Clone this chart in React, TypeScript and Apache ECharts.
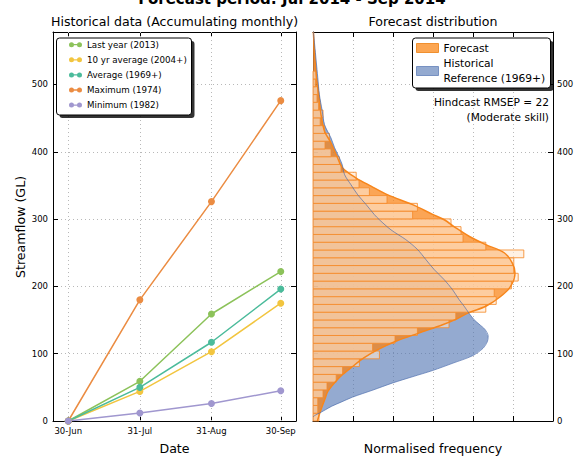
import React, { useEffect, useRef } from 'react';
import * as echarts from 'echarts';

const FONT = 'DejaVu Sans';

// ---------------- Data ----------------
const MAIN_TITLE = 'Forecast period: Jul 2014 - Sep 2014';
const LEFT_TITLE = 'Historical data (Accumulating monthly)';
const RIGHT_TITLE = 'Forecast distribution';
const Y_TITLE = 'Streamflow (GL)';
const X_TITLE_LEFT = 'Date';
const X_TITLE_RIGHT = 'Normalised frequency';
const SKILL_LINES = ['Hindcast RMSEP = 22', '(Moderate skill)'];

const DATE_DAYS = [0, 31, 62, 92];
const DATE_LABELS = ['30-Jun', '31-Jul', '31-Aug', '30-Sep'];
const Y_TICKS = [0, 100, 200, 300, 400, 500];
const FREQ_TICKS = [0, 1, 2, 3, 4, 5, 6];

const SERIES_NAMES = [
  'Last year (2013)',
  '10 yr average (2004+)',
  'Average (1969+)',
  'Maximum (1974)',
  'Minimum (1982)',
];
const LAST_YEAR = [0, 59, 159, 222];
const TEN_YR_AVERAGE = [0, 44, 103, 175];
const AVERAGE = [0, 50, 117, 196];
const MAXIMUM = [0, 180, 326, 476];
const MINIMUM = [0, 12, 26, 45];

const FORECAST_NAME = 'Forecast';
const HIST_NAME = 'Historical Reference (1969+)';

// histogram of the forecast ensemble (normalised frequency per bin)
const HIST_BIN_WIDTH = 11.55;
const HIST_DENSITY = [
  0.15, 0.12, 0.12, 0.25, 0.35, 0.58, 0.74, 1.16, 1.66, 1.49,
  2.05, 2.61, 3.40, 3.57, 4.32, 4.58, 4.53, 4.96, 5.13, 5.02,
  5.02, 5.27, 4.32, 3.75, 3.70, 3.45, 2.49, 2.61, 1.85, 1.41,
  1.15, 1.08, 0.70, 0.66, 0.45, 0.30, 0.41, 0.29, 0.18, 0.25,
  0.14, 0.10, 0.12, 0.06, 0.08,
];

// forecast density curve
const FORECAST_KDE_GL = [
  0, 10, 22, 33, 44, 57, 69, 81, 94, 106, 118.5, 131, 143, 151, 161, 170.5, 185, 200, 220, 235,
  250, 262, 274.5, 287, 299, 307, 321.5, 336, 349, 361, 376, 396, 415.5, 430, 455, 477, 510, 537, 578,
];
const FORECAST_KDE_DENSITY = [
  0.11, 0.16, 0.23, 0.30, 0.37, 0.54, 0.74, 0.99, 1.28, 1.62, 2.07, 2.66, 3.24, 3.57, 3.90, 4.32, 4.69, 4.94, 5.05, 4.98,
  4.78, 4.32, 3.90, 3.57, 3.28, 2.99, 2.49, 1.87, 1.45, 1.08, 0.74, 0.58, 0.43, 0.29, 0.20, 0.16, 0.09, 0.05, 0.01,
];

// historical reference density curve
const HIST_KDE_GL = [
  6, 8, 10, 13, 17, 22, 28, 35.5, 46, 56.5, 66, 75, 86, 97, 108, 118, 126, 136, 144, 151,
  161, 170.5, 180.5, 195, 210, 225, 240, 255, 269.5, 284, 299, 307, 321.5, 336, 351, 366, 381, 391,
  406, 420.5, 440, 461, 485, 510, 535, 560, 578,
];
const HIST_KDE_DENSITY = [
  0, 0.04, 0.1, 0.2, 0.32, 0.47, 0.7, 0.99, 1.5, 1.99, 2.5, 2.99, 3.5, 3.99, 4.25, 4.36, 4.38, 4.30, 4.15, 4.02,
  3.89, 3.78, 3.65, 3.49, 3.28, 3.03, 2.82, 2.61, 2.32, 1.95, 1.66, 1.53, 1.33, 1.12, 0.95, 0.79, 0.73, 0.66,
  0.54, 0.45, 0.29, 0.23, 0.16, 0.12, 0.08, 0.04, 0.01,
];

// ---------------- Styles / layout ----------------
const LINE_COLORS = ['#8cc25a', '#f2c53f', '#4bbb9b', '#eb8c42', '#a097cf'];
const X_L_MIN = -6.6;
const X_L_MAX = 98.6;
const Y_MAX = 578;
const X_R_MAX = 6;

const LEGEND_ICON =
  'path://M2.5,0A2.5,2.5,0,1,1,2.5,5A2.5,2.5,0,1,1,2.5,0ZM4.5,1.85L8.5,1.85L8.5,3.15L4.5,3.15ZM10.5,0A2.5,2.5,0,1,1,10.5,5A2.5,2.5,0,1,1,10.5,0Z';

function buildOption(): any {
  const axisLine = { show: true, onZero: false, lineStyle: { color: '#000', width: 1 } };
  const tick = { show: true, inside: true, length: 5, lineStyle: { color: '#000', width: 1 } };
  const gridLine = { show: true, lineStyle: { color: '#b8b8b8', type: [1, 3], width: 1 } };
  const label = { color: '#000', fontFamily: FONT, fontSize: 8.5 };
  const yFmt = (v: number) => (Y_TICKS.indexOf(v) >= 0 ? String(v) : '');

  const leftData = [LAST_YEAR, TEN_YR_AVERAGE, AVERAGE, MAXIMUM, MINIMUM];
  const series: any[] = leftData.map((vals, i) => {
    const s: any = {
      type: 'line',
      name: SERIES_NAMES[i],
      xAxisIndex: 0,
      yAxisIndex: 0,
      data: DATE_DAYS.map((d, j) => [d, vals[j]]),
      symbol: 'circle',
      symbolSize: 7,
      lineStyle: { color: LINE_COLORS[i], width: 1.5 },
      itemStyle: { color: LINE_COLORS[i] },
      emphasis: { disabled: true },
      silent: true,
      z: 3,
    };
    if (i === 0) {
      s.markLine = {
        silent: true,
        symbol: 'none',
        z: 1,
        animation: false,
        label: { show: false },
        emphasis: { disabled: true },
        lineStyle: { color: '#b8b8b8', type: [1, 3], width: 1 },
        data: DATE_DAYS.map((d) => ({ xAxis: d })),
      };
    }
    return s;
  });

  const forecastPts = FORECAST_KDE_GL.map((v, i) => [FORECAST_KDE_DENSITY[i], v]);
  const histPts = HIST_KDE_GL.map((v, i) => [HIST_KDE_DENSITY[i], v]);

  const polygonSeries = (name: string, pts: number[][], fill: string) => ({
    type: 'custom',
    name,
    xAxisIndex: 2,
    yAxisIndex: 2,
    silent: true,
    encode: { x: 0, y: 1 },
    data: pts,
    renderItem: (params: any, api: any) => {
      if (params.dataIndex !== 0) return null;
      const all = [[0, pts[0][1]], ...pts, [0, pts[pts.length - 1][1]]];
      const coords = all.map((p) => api.coord(p));
      return { type: 'polygon', shape: { points: coords }, style: { fill, stroke: 'none' } };
    },
  });

  series.push(polygonSeries(HIST_NAME, histPts, 'rgba(76,114,176,0.6)'));
  series.push(polygonSeries('Forecast density', forecastPts, 'rgba(250,130,20,0.72)'));

  series.push({
    type: 'custom',
    name: FORECAST_NAME,
    xAxisIndex: 2,
    yAxisIndex: 2,
    silent: true,
    encode: { x: 0, y: [1, 2] },
    data: HIST_DENSITY.map((d, i) => [d, i * HIST_BIN_WIDTH, (i + 1) * HIST_BIN_WIDTH]),
    renderItem: (params: any, api: any) => {
      const d = api.value(0);
      const v0 = api.value(1);
      const v1 = api.value(2);
      const p0 = api.coord([0, v0]);
      const p1 = api.coord([d, v1]);
      return {
        type: 'rect',
        shape: { x: p0[0], y: p1[1], width: p1[0] - p0[0], height: p0[1] - p1[1] },
        style: { fill: 'rgba(255,232,210,0.6)', stroke: 'rgba(244,140,45,0.85)', lineWidth: 1 },
      };
    },
  });

  series.push({
    type: 'line',
    name: 'Forecast curve',
    xAxisIndex: 2,
    yAxisIndex: 2,
    data: forecastPts,
    showSymbol: false,
    symbol: 'none',
    smooth: 0.3,
    silent: true,
    lineStyle: { color: '#f7861c', width: 1.5 },
    emphasis: { disabled: true },
  });
  series.push({
    type: 'line',
    name: 'Historical curve',
    xAxisIndex: 2,
    yAxisIndex: 2,
    data: histPts,
    showSymbol: false,
    symbol: 'none',
    smooth: 0.3,
    silent: true,
    lineStyle: { color: 'rgba(70,105,170,0.65)', width: 1 },
    emphasis: { disabled: true },
  });

  const txt = (text: string, x: number, y: number, extra: any = {}) => ({
    type: 'text',
    x,
    y,
    z: 12,
    silent: true,
    rotation: extra.rotation || 0,
    style: {
      text,
      fill: '#000',
      fontFamily: FONT,
      fontSize: extra.fontSize || 12.6,
      fontWeight: extra.fontWeight || 'normal',
      align: extra.align || 'center',
      verticalAlign: 'middle',
      textAlign: extra.align || 'center',
      textVerticalAlign: 'middle',
    },
  });

  return {
    animation: false,
    backgroundColor: '#fff',
    grid: [
      { left: 53, top: 32, width: 243, height: 389, show: false },
      { left: 313, top: 32, width: 240, height: 389, show: false },
    ],
    xAxis: [
      {
        gridIndex: 0, type: 'value', position: 'bottom', min: X_L_MIN, max: X_L_MAX,
        axisLine, axisTick: { ...tick, customValues: DATE_DAYS },
        axisLabel: {
          ...label, margin: 5, customValues: DATE_DAYS,
          formatter: (v: number) => { const k = DATE_DAYS.indexOf(v); return k >= 0 ? DATE_LABELS[k] : ''; },
        },
        splitLine: { show: false },
      },
      {
        gridIndex: 0, type: 'value', position: 'top', min: X_L_MIN, max: X_L_MAX,
        axisLine, axisTick: { ...tick, customValues: DATE_DAYS }, axisLabel: { show: false }, splitLine: { show: false },
      },
      {
        gridIndex: 1, type: 'value', position: 'bottom', min: 0, max: X_R_MAX, interval: 1,
        axisLine, axisTick: { ...tick, customValues: FREQ_TICKS }, axisLabel: { show: false }, splitLine: gridLine,
      },
      {
        gridIndex: 1, type: 'value', position: 'top', min: 0, max: X_R_MAX, interval: 1,
        axisLine, axisTick: { ...tick, customValues: FREQ_TICKS }, axisLabel: { show: false }, splitLine: { show: false },
      },
    ],
    yAxis: [
      {
        gridIndex: 0, type: 'value', position: 'left', min: 0, max: Y_MAX, interval: 100,
        axisLine, axisTick: { ...tick, customValues: Y_TICKS },
        axisLabel: { ...label, margin: 5, customValues: Y_TICKS, formatter: yFmt }, splitLine: gridLine,
      },
      {
        gridIndex: 0, type: 'value', position: 'right', min: 0, max: Y_MAX, interval: 100,
        axisLine, axisTick: { ...tick, customValues: Y_TICKS }, axisLabel: { show: false }, splitLine: { show: false },
      },
      {
        gridIndex: 1, type: 'value', position: 'right', min: 0, max: Y_MAX, interval: 100,
        axisLine, axisTick: { ...tick, customValues: Y_TICKS },
        axisLabel: { ...label, margin: 4, customValues: Y_TICKS, formatter: yFmt }, splitLine: gridLine,
      },
      {
        gridIndex: 1, type: 'value', position: 'left', min: 0, max: Y_MAX, interval: 100,
        axisLine, axisTick: { ...tick, customValues: Y_TICKS }, axisLabel: { show: false }, splitLine: { show: false },
      },
    ],
    legend: [
      {
        data: SERIES_NAMES.map((n) => ({ name: n, icon: LEGEND_ICON })),
        orient: 'vertical',
        left: 69,
        top: 39.7,
        padding: 0,
        itemWidth: 13,
        itemHeight: 5,
        itemGap: 5.1,
        selectedMode: false,
        z: 20,
        textStyle: { fontFamily: FONT, fontSize: 8.7, color: '#000', lineHeight: 10 },
      },
      {
        data: [
          { name: FORECAST_NAME, icon: 'rect', itemStyle: { color: '#fca652', borderColor: '#f0902f', borderWidth: 1 } },
          { name: HIST_NAME, icon: 'rect', itemStyle: { color: '#94aad0', borderColor: '#7791c2', borderWidth: 1 } },
        ],
        orient: 'vertical',
        left: 416,
        top: 40.5,
        padding: 0,
        itemWidth: 22,
        itemHeight: 9,
        itemGap: 0.5,
        selectedMode: false,
        z: 20,
        formatter: (name: string) => (name === HIST_NAME ? 'Historical\nReference (1969+)' : name),
        textStyle: { fontFamily: FONT, fontSize: 10.7, color: '#000', lineHeight: 15 },
      },
    ],
    graphic: {
      elements: [
        { type: 'rect', z: 10, silent: true, shape: { x: 59.5, y: 41, width: 135, height: 77, r: 3 }, style: { fill: 'rgba(0,0,0,0.8)' } },
        { type: 'rect', z: 11, silent: true, shape: { x: 56.5, y: 38, width: 135, height: 77, r: 3 }, style: { fill: '#fff', stroke: '#000', lineWidth: 1 } },
        { type: 'rect', z: 10, silent: true, shape: { x: 415.5, y: 41, width: 138, height: 50, r: 3 }, style: { fill: 'rgba(0,0,0,0.8)' } },
        { type: 'rect', z: 11, silent: true, shape: { x: 412.5, y: 38, width: 138, height: 50, r: 3 }, style: { fill: '#fff', stroke: '#000', lineWidth: 1 } },
        txt(MAIN_TITLE, 292, -1, { fontSize: 15, fontWeight: 'bold' }),
        txt(LEFT_TITLE, 174.5, 21),
        txt(RIGHT_TITLE, 433, 21),
        txt(X_TITLE_LEFT, 174.5, 448),
        txt(X_TITLE_RIGHT, 433, 448),
        txt(Y_TITLE, 20, 227, { rotation: Math.PI / 2 }),
        txt(SKILL_LINES[0], 549, 102, { fontSize: 10.6, align: 'right' }),
        txt(SKILL_LINES[1], 549, 117, { fontSize: 10.6, align: 'right' }),
      ],
    },
    series,
  };
}

export default function App() {
  const ref = useRef<HTMLDivElement>(null);
  useEffect(() => {
    if (!ref.current) return;
    const chart = echarts.init(ref.current, undefined, { renderer: 'svg' });
    chart.setOption(buildOption());
    return () => {
      chart.dispose();
    };
  }, []);
  return (
    <div
      ref={ref}
      style={{ position: 'absolute', left: 0, top: 0, width: 577, height: 456, background: '#fff' }}
    />
  );
}
